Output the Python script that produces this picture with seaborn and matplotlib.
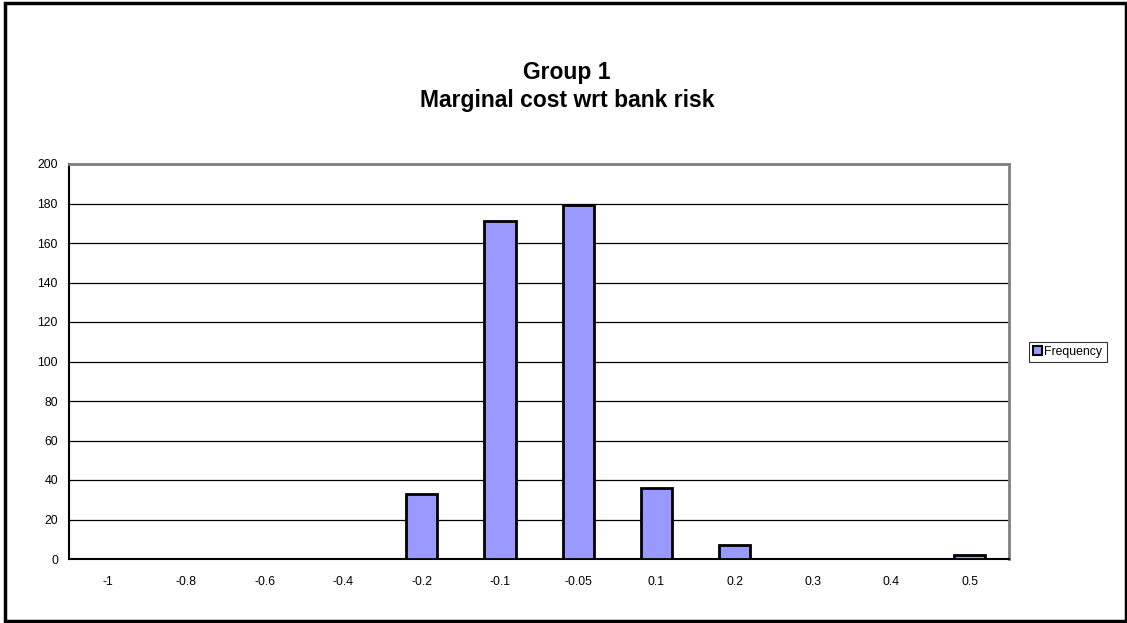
import matplotlib
matplotlib.use("Agg")
import matplotlib.pyplot as plt
import seaborn as sns
import pandas as pd
from matplotlib.patches import Rectangle, Patch

# dados
categorias = ["-1", "-0.8", "-0.6", "-0.4", "-0.2", "-0.1", "-0.05", "0.1", "0.2", "0.3", "0.4", "0.5"]
frequencia = [0, 0, 0, 0, 33, 171, 179, 36, 7, 0, 0, 2]
y_ticks = [0, 20, 40, 60, 80, 100, 120, 140, 160, 180, 200]

df = pd.DataFrame({"bin": categorias, "Frequency": frequencia})

sns.set_style("white")
plt.rcParams["font.family"] = ["Liberation Sans", "DejaVu Sans"]
plt.rcParams["text.color"] = "black"
plt.rcParams["xtick.color"] = "black"
plt.rcParams["ytick.color"] = "black"

fig = plt.figure(figsize=(11.27, 6.23), dpi=100)
ax = fig.add_axes([69 / 1127, 1 - 559 / 623, 940 / 1127, 395 / 623])

sns.barplot(data=df, x="bin", y="Frequency", order=categorias, color="#9999FF",
            width=0.4, edgecolor="black", linewidth=2, saturation=1, ax=ax, zorder=3)

ax.set_xlim(-0.5, len(categorias) - 0.5)
ax.set_ylim(0, 200)
ax.set_yticks(y_ticks)
ax.set_yticklabels([str(v) for v in y_ticks], fontsize=8.8)
ax.yaxis.grid(True, color="black", linewidth=0.9)
ax.set_axisbelow(True)
ax.set_xlabel("")
ax.set_ylabel("")

# ticks do eixo x entre as categorias
ax.set_xticks(range(len(categorias)))
ax.set_xticklabels(categorias, fontsize=8.8)
ax.tick_params(axis="x", length=0, pad=12)
ax.set_xticks([i - 0.5 for i in range(len(categorias) + 1)], minor=True)
ax.tick_params(axis="x", which="minor", direction="out", length=4, width=1, color="black")
ax.tick_params(axis="y", direction="out", length=4, width=1, color="black", pad=4)

for lado in ["left", "bottom"]:
    ax.spines[lado].set_color("black")
    ax.spines[lado].set_linewidth(1.5)
for lado in ["top", "right"]:
    ax.spines[lado].set_color("#808080")
    ax.spines[lado].set_linewidth(2)
    ax.spines[lado].set_visible(True)

fig.text(567 / 1127, 1 - 72 / 623, "Group 1", ha="center", va="center",
         fontsize=16.5, fontweight="bold", color="black")
fig.text(567 / 1127, 1 - 101 / 623, "Marginal cost wrt bank risk", ha="center", va="center",
         fontsize=16.5, fontweight="bold", color="black")

leg = fig.legend(handles=[Patch(facecolor="#9999FF", edgecolor="black", linewidth=1.5, label="Frequency")],
                 loc="center left", bbox_to_anchor=(1029 / 1127, 1 - 352 / 623),
                 fontsize=8.8, frameon=True, fancybox=False, handlelength=0.7, handleheight=0.7,
                 handletextpad=0.2, borderpad=0.35, borderaxespad=0)
leg.get_frame().set_edgecolor("black")
leg.get_frame().set_linewidth(0.8)

# moldura externa do grafico
fig.patches.append(Rectangle((5 / 1127, 2 / 623), 1121 / 1127, 618 / 623, transform=fig.transFigure,
                             fill=False, edgecolor="black", linewidth=2.5))

fig.savefig("out.png", dpi=100)
